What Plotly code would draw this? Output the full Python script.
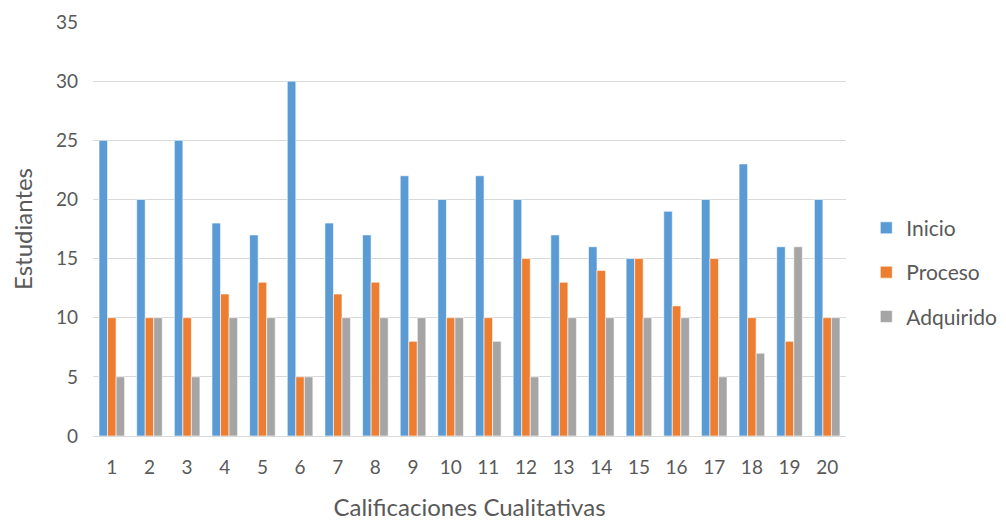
import plotly.graph_objects as go

# ------------------------------- data -------------------------------
categorias = [str(i) for i in range(1, 21)]
inicio = [25, 20, 25, 18, 17, 30, 18, 17, 22, 20, 22, 20, 17, 16, 15, 19, 20, 23, 16, 20]
proceso = [10, 10, 10, 12, 13, 5, 12, 13, 8, 10, 10, 15, 13, 14, 15, 11, 15, 10, 8, 10]
adquirido = [5, 10, 5, 10, 10, 5, 10, 10, 10, 10, 8, 5, 10, 10, 10, 10, 5, 7, 16, 10]

series = [("Inicio", inicio, "#5B9BD5"),
          ("Proceso", proceso, "#ED7D31"),
          ("Adquirido", adquirido, "#A5A5A5")]

# ------------------------------- plot -------------------------------
fig = go.Figure()
for name, vals, color in series:
    fig.add_trace(go.Bar(x=categorias, y=vals, name=name, legendgroup=name,
                         marker=dict(color=color, line=dict(color="white", width=0.6))))

# the page body adds an 8px margin, so the figure is 8px smaller each way
font = "Lato, 'Open Sans', sans-serif"
fig.update_layout(
    width=998, height=513,
    margin=dict(l=85, r=160, t=14, b=85),
    plot_bgcolor="white", paper_bgcolor="white",
    barmode="group", bargap=0.32, bargroupgap=0,
    font=dict(family=font, size=20, color="#595959"),
    xaxis=dict(title=dict(text="Calificaciones Cualitativas", standoff=31),
               automargin=False, showgrid=False, ticks="", ticklabelstandoff=18,
               tickfont=dict(size=19), showline=False),
    yaxis=dict(title=dict(text="Estudiantes", standoff=20), range=[0, 35], dtick=5,
               automargin=False, showgrid=True, gridcolor="#D9D9D9", gridwidth=1.3,
               zeroline=True, zerolinecolor="#D9D9D9", zerolinewidth=1.3,
               ticks="", ticklabelstandoff=14, tickfont=dict(size=19)),
    legend=dict(xref="container", yref="container", x=0.86, y=0.485,
                xanchor="left", yanchor="middle",
                tracegroupgap=14, font=dict(size=21, color="#595959")),
)

fig.write_html("out.html")
